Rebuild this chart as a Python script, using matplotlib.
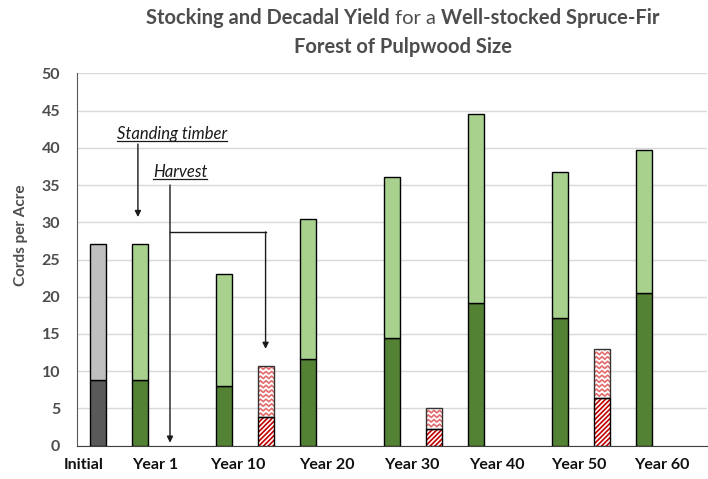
import numpy as np
import matplotlib
matplotlib.use('Agg')
import matplotlib.pyplot as plt
from matplotlib.lines import Line2D

plt.rcParams['font.family'] = ['Lato', 'DejaVu Sans']
plt.rcParams['hatch.linewidth'] = 1.2

# Data (cords per acre)
periods = ["Initial", "Year 1", "Year 10", "Year 20", "Year 30", "Year 40", "Year 50", "Year 60"]
standing_lower = [8.8, 8.8, 8.0, 11.7, 14.4, 19.1, 17.1, 20.5]
standing_total = [27.1, 27.1, 23.1, 30.4, 36.1, 44.6, 36.8, 39.7]
harvest_lower = [0, 3.8, 0, 2.3, 0, 6.4, 0]   # Year 1 .. Year 60
harvest_total = [0, 10.7, 0, 5.0, 0, 13.0, 0]

# colours
GREY_DARK = "#595959"
GREY_LIGHT = "#BFBFBF"
GREEN_DARK = "#548235"
GREEN_LIGHT = "#A9D18E"
RED_DARK = "#C00000"
RED_LIGHT = "#E26B6B"
TEXT_GREY = "#4d4d4d"

# slot positions: Initial at 0, then (stock, harvest) pairs
stock_x = [0] + [2 * i - 1 for i in range(1, len(periods))]
harvest_x = [2 * i for i in range(1, len(periods))]
label_x = [-0.33, 1.36, 3.33, 5.45, 7.47, 9.5, 11.45, 13.43]

fig = plt.figure(figsize=(7.08, 4.79), dpi=100)
ax = fig.add_axes([77 / 708, 1 - 445.7 / 479, 630 / 708, 372.4 / 479])

w = 0.4
upper = [t - l for t, l in zip(standing_total, standing_lower)]
low_cols = [GREY_DARK] + [GREEN_DARK] * (len(periods) - 1)
up_cols = [GREY_LIGHT] + [GREEN_LIGHT] * (len(periods) - 1)
ax.bar(stock_x, standing_lower, width=w, color=low_cols, edgecolor="black", linewidth=1, zorder=3)
ax.bar(stock_x, upper, bottom=standing_lower, width=w, color=up_cols, edgecolor="black", linewidth=1, zorder=3)

# harvest bars: hatched lower part, zigzag upper part (skip empty ones)
h_upper = [t - l for t, l in zip(harvest_total, harvest_lower)]
low_lw = [1 if v > 0 else 0 for v in harvest_lower]
up_lw = [1 if v > 0 else 0 for v in h_upper]
ax.bar(harvest_x, harvest_lower, width=w, color="white", edgecolor=RED_DARK, hatch="///////",
       linewidth=0, zorder=3)
ax.bar(harvest_x, harvest_lower, width=w, color="none", edgecolor="black", linewidth=low_lw, zorder=4)
zig_bars = ax.bar(harvest_x, h_upper, bottom=harvest_lower, width=w, color="white",
                  edgecolor="#333333", linewidth=up_lw, zorder=3)
for p in zig_bars:
    if p.get_height() <= 0:
        continue
    x0, bw, y0, bh = p.get_x(), p.get_width(), p.get_y(), p.get_height()
    xs = np.linspace(x0, x0 + bw, 13)
    offs = np.where(np.arange(13) % 4 == 0, 0.0, np.where(np.arange(13) % 2 == 1, 0.17, 0.34))
    for yy in np.arange(y0 + 0.25, y0 + bh, 0.62):
        ln, = ax.plot(xs, yy + offs, color=RED_LIGHT, lw=1.2, zorder=3.5)
        ln.set_clip_path(p)
    p.set_zorder(3.6)
    p.set_facecolor("none")
    ax.bar(p.get_x() + bw / 2, bh, bottom=y0, width=bw, color="white", linewidth=0, zorder=2.9)

ax.set_xlim(-0.5, 14.5)
ax.set_ylim(0, 50)
ax.set_yticks(range(0, 51, 5))
ax.grid(axis="y", color="#D9D9D9", lw=1, zorder=0)
ax.set_axisbelow(True)
for s in ["top", "right"]:
    ax.spines[s].set_visible(False)
ax.spines["left"].set_color("#595959")
ax.spines["bottom"].set_color("#404040")
ax.tick_params(axis="both", length=0)
ax.tick_params(axis="y", pad=12, labelsize=11.5, labelcolor=TEXT_GREY)
for t in ax.get_yticklabels():
    t.set_fontweight("bold")
ax.set_xticks(label_x)
ax.set_xticklabels(periods, fontsize=11.5, fontweight="bold", color="#111111")
ax.tick_params(axis="x", pad=9)

ax.set_ylabel("Cords per Acre", fontsize=11, fontweight="bold", color=TEXT_GREY)
ax.yaxis.set_label_coords(-0.078, 0.566)

# annotations
ann_col = "#1a1a1a"
t1 = ax.text(1.755, 41.8, "Standing timber", style="italic", fontsize=12,
             ha="center", va="center", color=ann_col)
t2 = ax.text(1.95, 36.7, "Harvest", style="italic", fontsize=12,
             ha="center", va="center", color=ann_col)
arr = dict(arrowstyle="-|>", color=ann_col, lw=1, mutation_scale=9, shrinkA=0, shrinkB=0)
ax.annotate("", xy=(0.95, 30.7), xytext=(0.95, 40.5), arrowprops=arr)
ax.annotate("", xy=(1.714, 0.4), xytext=(1.714, 35.0), arrowprops=arr)
ax.plot([1.714, 3.99], [28.7, 28.7], color=ann_col, lw=1)
ax.annotate("", xy=(3.99, 13.0), xytext=(3.99, 28.7), arrowprops=arr)

# title with mixed weights
renderer = fig.canvas.get_renderer()
FW = fig.get_figwidth() * fig.dpi


def mixed_line(pieces, y, cx, size):
    texts = [fig.text(0, y, s, fontsize=size, fontweight=wt, color=TEXT_GREY, va="center")
             for s, wt in pieces]
    widths = [t.get_window_extent(renderer).width for t in texts]
    gap = 0.25 * size * fig.dpi / 72
    total = sum(widths) + gap * (len(texts) - 1)
    x = cx * FW - total / 2
    for t, wd in zip(texts, widths):
        t.set_x(x / FW)
        x += wd + gap


mixed_line([("Stocking and Decadal Yield", "bold"), ("for a", "normal"),
            ("Well-stocked Spruce-Fir", "bold")], 1 - 18 / 479, 403 / 708, 14.5)
mixed_line([("Forest of Pulpwood Size", "bold")], 1 - 47 / 479, 403 / 708, 14.5)

# underline the italic annotations
fig.canvas.draw()
for t in (t1, t2):
    bb = t.get_window_extent(renderer)
    yline = bb.y0 + 1
    fig.add_artist(Line2D([bb.x0 / FW, bb.x1 / FW], [yline / fig.bbox.height] * 2,
                          color=ann_col, lw=0.9))

fig.savefig("out.png", dpi=100)
